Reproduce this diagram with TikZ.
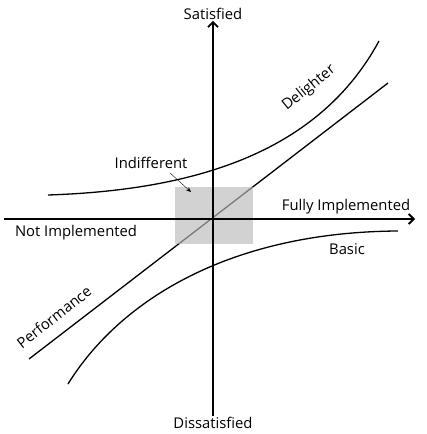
\documentclass[tikz,border=0pt]{standalone}
\usepackage{fontspec}
\setmainfont{Open Sans}
\usetikzlibrary{arrows.meta}
\tikzset{
    axis/.style={line width=1.8pt, -{Straight Barb[length=5pt,width=10pt,line width=1.8pt]}},
    curve/.style={line width=1.3pt, black},
    lbl/.style={font=\fontsize{14.8}{16}\selectfont, inner sep=1pt},
}
\begin{document}
\begin{tikzpicture}[x=1pt, y=-1pt]
    \useasboundingbox (0,0) rectangle (427,434);

    % Performance - straight line
    \draw[curve] (29,359) -- (388,83);

    % Indifferent zone - shaded
    \fill[black!27, opacity=0.65] (175,187) rectangle (253,244);
    \coordinate (zone) at (191,192);

    % Axes
    \node[lbl] (sat) at (213,14) {Satisfied};
    \node[lbl] (dissat) at (213,423) {Dissatisfied};
    \coordinate (left) at (4,219);
    \coordinate (right) at (415,219);
    \draw[axis] (dissat.north) -- (sat.south);
    \draw[axis] (left) -- (right);
    \node[lbl] (full) at (346,207) {Fully Implemented};
    \node[lbl] (notimp) at (76,233) {Not Implemented};

    % Delighter and Basic - curves
    \draw[curve] (48,195) .. controls (200,190) and (320,150) .. (379,41);
    \draw[curve] (68,384) .. controls (120,300) and (230,232) .. (398,231);

    % Curve labels
    \node[lbl, rotate=39] (delight) at (309,88) {Delighter};
    \node[lbl, rotate=38] (perf) at (54,317) {Performance};
    \node[lbl] (basic) at (347,249) {Basic};
    \node[lbl] (indiff) at (151,163) {Indifferent};
    \draw[-{Stealth[length=5pt,width=4pt]}, thin] (indiff.south) ++(19,3) -- (zone);

\end{tikzpicture}
\end{document}
